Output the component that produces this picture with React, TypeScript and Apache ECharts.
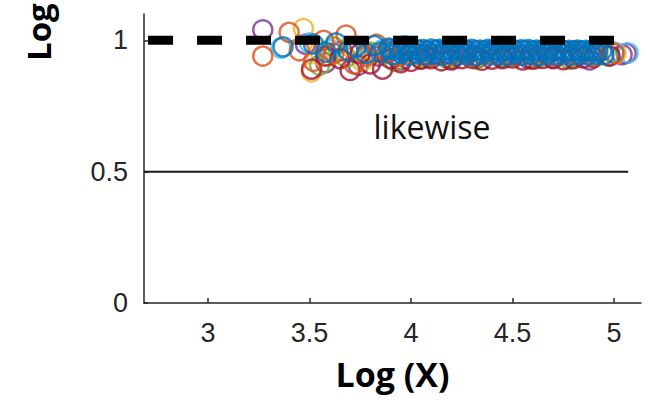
import React, { useEffect, useRef } from "react";
import * as echarts from "echarts";

const xTicks = [3, 3.5, 4, 4.5, 5];
const yTicks = [0, 0.5, 1];

const refDashed: [number, number][] = [[2.705, 1], [5.005, 1]];
const refSolid: [number, number][] = [[2.685, 0.5], [5.07, 0.5]];

const purple: [number, number][] = [
  [3.27, 1.04], [3.48, 0.985], [3.58, 0.915], [3.66, 0.96], [3.74, 0.905], [3.84, 0.94],
  [3.95, 0.925], [4.08, 0.935], [4.2, 0.93], [4.33, 0.935], [4.45, 0.935], [4.58, 0.93],
  [4.7, 0.93], [4.88, 0.925], [5.04, 0.945], [5.06, 0.95]
];
const yellow: [number, number][] = [
  [3.47, 1.045], [3.51, 0.88], [3.55, 0.96], [3.6, 0.94], [3.7, 0.975], [3.76, 0.92],
  [3.82, 0.95], [3.93, 0.935], [4.05, 0.94], [4.2, 0.938], [4.35, 0.945], [4.5, 0.94],
  [4.65, 0.948], [4.8, 0.94], [4.92, 0.95], [5.0, 0.955], [5.01, 0.95]
];
const green: [number, number][] = [
  [3.55, 0.905], [3.62, 0.975], [3.68, 0.935], [3.8, 0.955], [3.92, 0.92], [4.05, 0.93],
  [4.18, 0.93], [4.32, 0.928], [4.48, 0.935], [4.62, 0.93], [4.78, 0.928], [4.97, 0.94]
];
const lightBlue: [number, number][] = [
  [3.36, 0.97], [3.5, 0.99], [3.6, 0.965], [3.72, 0.975], [3.86, 0.965], [3.97, 0.98],
  [4.12, 0.96], [4.25, 0.97], [4.4, 0.962], [4.55, 0.965], [4.7, 0.96], [4.82, 0.96],
  [5.0, 0.955], [5.07, 0.952]
];
const darkRed: [number, number][] = [
  [3.51, 0.89], [3.58, 0.94], [3.65, 0.93], [3.7, 0.885], [3.75, 0.95], [3.8, 0.91],
  [3.86, 0.89], [3.9, 0.93], [3.95, 0.915], [4.0, 0.92], [4.05, 0.928], [4.1, 0.93],
  [4.15, 0.922], [4.2, 0.925], [4.25, 0.93], [4.3, 0.932], [4.35, 0.924], [4.4, 0.928],
  [4.45, 0.93], [4.5, 0.933], [4.55, 0.925], [4.6, 0.928], [4.65, 0.931], [4.7, 0.932],
  [4.75, 0.926], [4.8, 0.93], [4.85, 0.933], [4.9, 0.935], [4.98, 0.94]
];
const orange: [number, number][] = [
  [3.27, 0.94], [3.4, 1.03], [3.45, 0.96], [3.52, 0.92], [3.57, 1.0], [3.62, 0.95],
  [3.68, 1.02], [3.72, 0.91], [3.78, 0.94], [3.83, 0.985], [3.88, 0.955], [3.94, 0.94],
  [4.0, 0.95], [4.1, 0.94], [4.2, 0.945], [4.3, 0.938], [4.4, 0.95], [4.5, 0.94],
  [4.6, 0.945], [4.7, 0.94], [4.8, 0.948], [4.9, 0.94], [5.0, 0.95]
];
const blueLeft: [number, number][] = [
  [3.37, 0.975], [3.52, 0.985], [3.58, 0.955], [3.63, 0.99], [3.69, 0.96],
  [3.73, 0.975], [3.78, 0.95], [3.82, 0.98], [3.85, 0.955], [3.89, 0.97]
];
const blueUpper: [number, number][] = [
  [3.9, 0.966], [3.92, 0.962], [3.94, 0.968], [3.96, 0.96], [3.98, 0.965], [4.0, 0.962],
  [4.02, 0.967], [4.04, 0.961], [4.06, 0.964], [4.08, 0.96], [4.1, 0.966], [4.12, 0.962],
  [4.14, 0.965], [4.16, 0.96], [4.18, 0.964], [4.2, 0.961], [4.22, 0.966], [4.24, 0.962],
  [4.26, 0.964], [4.28, 0.96], [4.3, 0.965], [4.32, 0.961], [4.34, 0.963], [4.36, 0.96],
  [4.38, 0.965], [4.4, 0.962], [4.42, 0.964], [4.44, 0.96], [4.46, 0.963], [4.48, 0.961],
  [4.5, 0.965], [4.52, 0.96], [4.54, 0.963], [4.56, 0.961], [4.58, 0.964], [4.6, 0.96],
  [4.62, 0.963], [4.64, 0.961], [4.66, 0.964], [4.68, 0.96], [4.7, 0.962], [4.72, 0.961],
  [4.74, 0.963], [4.76, 0.959], [4.78, 0.962], [4.8, 0.96], [4.82, 0.963], [4.84, 0.959],
  [4.86, 0.962], [4.88, 0.96], [4.9, 0.961], [4.92, 0.959], [4.94, 0.961]
];
const blueLower: [number, number][] = [
  [3.91, 0.945], [3.95, 0.95], [3.99, 0.943], [4.03, 0.948], [4.07, 0.944], [4.11, 0.947],
  [4.15, 0.943], [4.19, 0.948], [4.23, 0.944], [4.27, 0.946], [4.31, 0.942], [4.35, 0.947],
  [4.39, 0.944], [4.43, 0.946], [4.47, 0.943], [4.51, 0.947], [4.55, 0.944], [4.59, 0.946],
  [4.63, 0.942], [4.67, 0.946], [4.71, 0.944], [4.75, 0.946], [4.79, 0.943], [4.83, 0.946],
  [4.87, 0.944], [4.91, 0.946], [4.95, 0.945]
];

const scatterSets: { name: string; color: string; data: [number, number][] }[] = [
  { name: "s4", color: "#7E2F8E", data: purple },
  { name: "s3", color: "#EDB120", data: yellow },
  { name: "s5", color: "#77AC30", data: green },
  { name: "s6", color: "#4DBEEE", data: lightBlue },
  { name: "s7", color: "#A2142F", data: darkRed },
  { name: "s2", color: "#D95319", data: orange },
  { name: "s1", color: "#0072BD", data: blueLeft },
  { name: "s8", color: "#0072BD", data: blueLower },
  { name: "s9", color: "#0072BD", data: blueUpper },
];

export default function App() {
  const ref = useRef<HTMLDivElement>(null);
  useEffect(() => {
    if (!ref.current) return;
    const chart = echarts.init(ref.current, undefined, { renderer: "svg" });
    const axisColor = "#262626";
    const labelFont = "Liberation Sans";
    chart.setOption({
      animation: false,
      grid: { left: 144, right: 7, top: 14, bottom: 101 },
      xAxis: {
        type: "value",
        min: 2.685,
        max: 5.133,
        name: "Log (X)",
        nameLocation: "middle",
        nameGap: 54,
        nameTextStyle: { fontFamily: "Open Sans", fontWeight: "bold", fontSize: 34, color: "#000" },
        axisLine: { onZero: false, lineStyle: { color: axisColor, width: 1.5 } },
        axisTick: { show: true, inside: true, length: 5, customValues: xTicks, lineStyle: { color: axisColor, width: 1.5 } },
        axisLabel: { customValues: xTicks, margin: 16, fontFamily: labelFont, fontSize: 27, color: axisColor },
        splitLine: { show: false },
      },
      yAxis: {
        type: "value",
        min: 0,
        max: 1.1,
        axisLine: { show: true, lineStyle: { color: axisColor, width: 1.5 } },
        axisTick: { show: true, inside: true, length: 4, customValues: yTicks, lineStyle: { color: axisColor, width: 1.5 } },
        axisLabel: { customValues: yTicks, margin: 16, fontFamily: labelFont, fontSize: 27, color: axisColor },
        splitLine: { show: false },
      },
      graphic: [
        {
          type: "text",
          x: 432,
          y: 126,
          style: { text: "likewise", fontFamily: "Open Sans", fontSize: 32, fill: "#111", align: "center", verticalAlign: "middle" },
        },
        {
          type: "text",
          x: 38,
          y: 61,
          rotation: Math.PI / 2,
          style: { text: "Log", fontFamily: "Open Sans", fontWeight: "bold", fontSize: 33, fill: "#000", align: "left", verticalAlign: "middle" },
        },
      ],
      series: [
        {
          type: "line",
          data: refSolid,
          symbol: "none",
          lineStyle: { color: "#1a1a1a", width: 2 },
          silent: true,
          z: 1,
        },
        ...scatterSets.map((s) => ({
          type: "scatter",
          name: s.name,
          data: s.data,
          symbol: "circle",
          symbolSize: 19,
          itemStyle: { color: "rgba(0,0,0,0)", borderColor: s.color, borderWidth: 2.5 },
          z: 2,
        })),
        {
          type: "line",
          data: refDashed,
          symbol: "none",
          lineStyle: { color: "#000", width: 9, type: [25, 24] },
          silent: true,
          z: 5,
        },
      ],
    });
    return () => chart.dispose();
  }, []);
  return <div ref={ref} style={{ width: 648, height: 404, position: "absolute", left: 0, top: 0 }} />;
}
